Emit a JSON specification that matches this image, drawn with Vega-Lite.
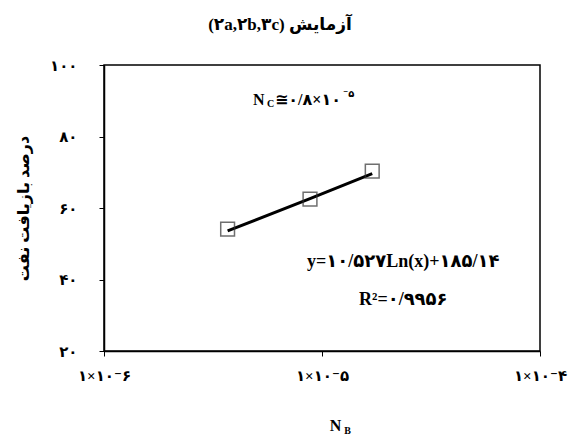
{
  "$schema": "https://vega.github.io/schema/vega-lite/v6.json",
  "autosize": "none",
  "width": 436,
  "height": 286,
  "padding": {"left": 104, "top": 65, "right": 35, "bottom": 83},
  "background": "white",
  "config": {
    "font": "Liberation Serif, DejaVu Sans",
    "view": {"stroke": "black", "strokeWidth": 1.5},
    "axis": {"grid": false, "domainColor": "black", "tickColor": "black", "labelColor": "black", "titleColor": "black", "labelFont": "Liberation Serif, DejaVu Sans", "titleFont": "Liberation Serif, DejaVu Sans", "labelFontWeight": "bold", "titleFontWeight": "bold", "labelFontSize": 15, "titleFontSize": 16, "tickSize": 5, "domainWidth": 1.5}
  },
  "title": {"text": "(۲a,۲b,۳c) آزمایش", "fontSize": 17, "fontWeight": "bold", "font": "Liberation Serif, DejaVu Sans", "dx": -42, "offset": 24, "color": "black"},
  "datasets": {
    "obs": [
      {"x": 3.69e-6, "y": 54.1},
      {"x": 8.81e-6, "y": 62.5},
      {"x": 1.70e-5, "y": 70.3}
    ],
    "trend": [
      {"x": 3.69e-6, "y": 53.6},
      {"x": 8.81e-6, "y": 62.6},
      {"x": 1.70e-5, "y": 69.6}
    ],
    "main": [
      {"x": 2.36e-5, "y": 44.9, "label": "y=۱۰/۵۲۷Ln(x)+۱۸۵/۱۴"},
      {"x": 2.36e-5, "y": 34.3, "label": "R²=۰/۹۹۵۶"}
    ],
    "nc": [{"x": 8.8e-6, "y": 90.2}]
  },
  "layer": [
    {
      "data": {"name": "trend"},
      "mark": {"type": "line", "color": "black", "strokeWidth": 3},
      "encoding": {
        "x": {"field": "x", "type": "quantitative", "scale": {"type": "log", "domain": [1e-6, 1e-4]},
          "axis": {"orient": "bottom", "values": [1e-6, 1e-5, 1e-4], "labelExpr": "datum.value < 5e-6 ? '۱×۱۰⁻۶' : datum.value < 5e-5 ? '۱×۱۰⁻۵' : '۱×۱۰⁻۴'", "labelPadding": 12, "title": "N", "titleX": 231, "titleY": 79, "titleBaseline": "alphabetic", "labelFlush": false}},
        "y": {"field": "y", "type": "quantitative", "scale": {"domain": [20, 100]},
          "axis": {"values": [20, 40, 60, 80, 100], "labelExpr": "datum.value == 20 ? '۲۰' : datum.value == 40 ? '۴۰' : datum.value == 60 ? '۶۰' : datum.value == 80 ? '۸۰' : '۱۰۰'", "labelPadding": 22, "title": "درصد بازیافت نفت", "titlePadding": 18}}
      }
    },
    {
      "data": {"name": "obs"},
      "mark": {"type": "point", "shape": "square", "size": 190, "filled": false, "color": "#333333", "strokeWidth": 1.5},
      "encoding": {
        "x": {"field": "x", "type": "quantitative", "axis": {"orient": "bottom", "labels": false, "ticks": false, "domain": false, "title": "B", "titleFontSize": 10, "titleX": 243, "titleY": 82, "titleBaseline": "alphabetic"}},
        "y": {"field": "y", "type": "quantitative"}
      }
    },
    {
      "data": {"name": "main"},
      "mark": {"type": "text", "fontSize": 18, "fontWeight": "bold", "color": "black"},
      "encoding": {
        "x": {"field": "x", "type": "quantitative", "axis": null},
        "y": {"field": "y", "type": "quantitative"},
        "text": {"field": "label"}
      }
    },
    {
      "data": {"name": "nc"},
      "mark": {"type": "text", "fontSize": 16, "fontWeight": "bold", "color": "black", "align": "left", "dx": -57},
      "encoding": {"x": {"field": "x", "type": "quantitative", "axis": null}, "y": {"field": "y", "type": "quantitative"}, "text": {"value": "N"}}
    },
    {
      "data": {"name": "nc"},
      "mark": {"type": "text", "fontSize": 10, "fontWeight": "bold", "color": "black", "align": "left", "dx": -43, "dy": 4},
      "encoding": {"x": {"field": "x", "type": "quantitative", "axis": null}, "y": {"field": "y", "type": "quantitative"}, "text": {"value": "C"}}
    },
    {
      "data": {"name": "nc"},
      "mark": {"type": "text", "fontSize": 16, "fontWeight": "bold", "color": "black", "align": "left", "dx": -35},
      "encoding": {"x": {"field": "x", "type": "quantitative", "axis": null}, "y": {"field": "y", "type": "quantitative"}, "text": {"value": "≅۰/۸×۱۰"}}
    },
    {
      "data": {"name": "nc"},
      "mark": {"type": "text", "fontSize": 10, "fontWeight": "bold", "color": "black", "align": "left", "dx": 33, "dy": -6},
      "encoding": {"x": {"field": "x", "type": "quantitative", "axis": null}, "y": {"field": "y", "type": "quantitative"}, "text": {"value": "⁻۵"}}
    }
  ],
  "resolve": {"axis": {"x": "independent"}}
}
